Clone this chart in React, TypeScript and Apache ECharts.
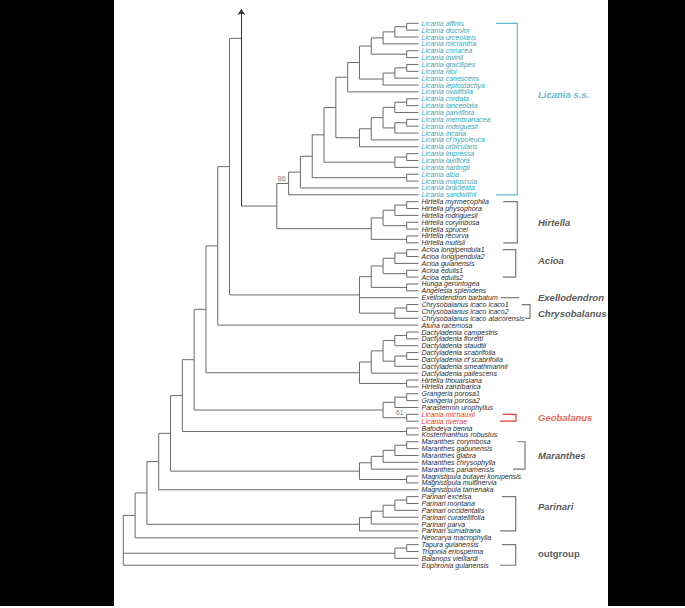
import React, { useEffect, useRef } from 'react';
import * as echarts from 'echarts';

// ---------- data ----------
const leafNames: string[] = [
  'Licania affinis', 'Licania discolor', 'Licania urceolaris', 'Licania micrantha', 'Licania coriacea',
  'Licania irwinii', 'Licania gracilipes', 'Licania riloi', 'Licania canescens', 'Licania leptostachya',
  'Licania ovalifolia', 'Licania cordata', 'Licania lanceolata', 'Licania parviflora', 'Licania membranacea',
  'Licania rodriguesii', 'Licania incana', 'Licania cf hypoleuca', 'Licania orbicularis', 'Licania impressa',
  'Licania laxiflora', 'Licania harlingii', 'Licania alba', 'Licania majuscula', 'Licania bracteata',
  'Licania sandwithii',
  'Hirtella myrmecophila', 'Hirtella physophora', 'Hirtella rodriguesii', 'Hirtella corymbosa',
  'Hirtella sprucei', 'Hirtella recurva', 'Hirtella mutisii',
  'Acioa longipendula1', 'Acioa longipendula2', 'Acioa guianensis', 'Acioa edulis1', 'Acioa edulis2',
  'Hunga gerontogea', 'Angelesia splendens', 'Exellodendron barbatum',
  'Chrysobalanus icaco icaco1', 'Chrysobalanus icaco icaco2', 'Chrysobalanus icaco atacorensis',
  'Atuna racemosa',
  'Dactyladenia campestris', 'Dactyladenia floretti', 'Dactyladenia staudtii', 'Dactyladenia scabrifolia',
  'Dactyladenia cf scabrifolia', 'Dactyladenia smeathmannii', 'Dactyladenia pallescens',
  'Hirtella thouarsiana', 'Hirtella zanzibarica',
  'Grangeria porosa1', 'Grangeria porosa2', 'Parastemon urophyllus', 'Licania michauxii', 'Licania riverae',
  'Bafodeya benna', 'Kostermanthus robustus',
  'Maranthes corymbosa', 'Maranthes gabunensis', 'Maranthes glabra', 'Maranthes chrysophylla',
  'Maranthes panamensis',
  'Magnistipula butayei korupensis', 'Magnistipula multinervia', 'Magnistipula tamenaka',
  'Parinari excelsa', 'Parinari montana', 'Parinari occidentalis', 'Parinari curatellifolia',
  'Parinari parva', 'Parinari sumatrana',
  'Neocarya macrophylla', 'Tapura guianensis', 'Trigonia eriosperma', 'Balanops vieillardi',
  'Euphronia guianensis',
];

// internal nodes: [id, level (steps from root), children]
const treeNodes: [string, number, string[]][] = [
  ['L1', 24, ['Licania affinis', 'Licania discolor']],
  ['L2', 23, ['L1', 'Licania urceolaris']],
  ['L3', 22, ['L2', 'Licania micrantha']],
  ['L4', 24, ['Licania coriacea', 'Licania irwinii']],
  ['L5', 21, ['L3', 'L4']],
  ['L6', 24, ['Licania gracilipes', 'Licania riloi']],
  ['L7', 23, ['L6', 'Licania canescens']],
  ['L8', 22, ['L7', 'Licania leptostachya']],
  ['L9', 20, ['L5', 'L8']],
  ['L10', 19, ['L9', 'Licania ovalifolia']],
  ['L11', 24, ['Licania cordata', 'Licania lanceolata']],
  ['L12', 23, ['L11', 'Licania parviflora']],
  ['L13', 24, ['Licania membranacea', 'Licania rodriguesii']],
  ['L14', 23, ['L13', 'Licania incana']],
  ['L15', 22, ['L12', 'L14']],
  ['L16', 21, ['L15', 'Licania cf hypoleuca']],
  ['L17', 20, ['L16', 'Licania orbicularis']],
  ['L18', 18, ['L10', 'L17']],
  ['L19', 24, ['Licania impressa', 'Licania laxiflora']],
  ['L20', 23, ['L19', 'Licania harlingii']],
  ['L21', 17, ['L18', 'L20']],
  ['L22', 24, ['Licania alba', 'Licania majuscula']],
  ['L23', 16, ['L21', 'L22']],
  ['L24', 15, ['L23', 'Licania bracteata']],
  ['L25', 14, ['L24', 'Licania sandwithii']],
  ['H1', 24, ['Hirtella myrmecophila', 'Hirtella physophora']],
  ['H2', 23, ['H1', 'Hirtella rodriguesii']],
  ['H3', 24, ['Hirtella corymbosa', 'Hirtella sprucei']],
  ['H4', 22, ['H2', 'H3']],
  ['H5', 24, ['Hirtella recurva', 'Hirtella mutisii']],
  ['H6', 21, ['H4', 'H5']],
  ['LH', 13, ['L25', 'H6']],
  ['STEM', 10, ['LH']],
  ['A1', 24, ['Acioa longipendula1', 'Acioa longipendula2']],
  ['A2', 23, ['A1', 'Acioa guianensis']],
  ['A3', 24, ['Acioa edulis1', 'Acioa edulis2']],
  ['A4', 22, ['A2', 'A3']],
  ['A5', 24, ['Hunga gerontogea', 'Angelesia splendens']],
  ['A6', 21, ['A4', 'A5']],
  ['C1', 24, ['Chrysobalanus icaco icaco1', 'Chrysobalanus icaco icaco2']],
  ['C2', 23, ['C1', 'Chrysobalanus icaco atacorensis']],
  ['A7', 20, ['A6', 'Exellodendron barbatum', 'C2']],
  ['B9', 9, ['STEM', 'A7']],
  ['B8', 8, ['B9', 'Atuna racemosa']],
  ['D1', 24, ['Dactyladenia campestris', 'Dactyladenia floretti']],
  ['D2', 23, ['D1', 'Dactyladenia staudtii']],
  ['D3', 24, ['Dactyladenia scabrifolia', 'Dactyladenia cf scabrifolia']],
  ['D4', 23, ['D3', 'Dactyladenia smeathmannii']],
  ['D5', 22, ['D2', 'D4']],
  ['D6', 21, ['D5', 'Dactyladenia pallescens']],
  ['D7', 24, ['Hirtella thouarsiana', 'Hirtella zanzibarica']],
  ['D8', 20, ['D6', 'D7']],
  ['B7', 7, ['B8', 'D8']],
  ['G1', 24, ['Grangeria porosa1', 'Grangeria porosa2']],
  ['G2', 23, ['G1', 'Parastemon urophyllus']],
  ['G3', 24, ['Licania michauxii', 'Licania riverae']],
  ['G4', 22, ['G2', 'G3']],
  ['B6', 6, ['B7', 'G4']],
  ['K1', 24, ['Bafodeya benna', 'Kostermanthus robustus']],
  ['B5', 5, ['B6', 'K1']],
  ['M1', 24, ['Maranthes corymbosa', 'Maranthes gabunensis']],
  ['M2', 23, ['M1', 'Maranthes glabra']],
  ['M3', 22, ['M2', 'Maranthes chrysophylla']],
  ['M4', 21, ['M3', 'Maranthes panamensis']],
  ['M5', 24, ['Magnistipula butayei korupensis', 'Magnistipula multinervia']],
  ['M6', 20, ['M4', 'M5']],
  ['B4', 4, ['B5', 'M6']],
  ['B3', 3, ['B4', 'Magnistipula tamenaka']],
  ['P1', 24, ['Parinari excelsa', 'Parinari montana']],
  ['P2', 23, ['P1', 'Parinari occidentalis']],
  ['P3', 22, ['P2', 'Parinari curatellifolia']],
  ['P4', 21, ['P3', 'Parinari parva']],
  ['P5', 20, ['P4', 'Parinari sumatrana']],
  ['B2', 2, ['B3', 'P5']],
  ['B1', 1, ['B2', 'Neocarya macrophylla']],
  ['O1', 24, ['Tapura guianensis', 'Trigonia eriosperma']],
  ['O2', 23, ['O1', 'Balanops vieillardi']],
  ['ROOT', 0, ['B1', 'O2', 'Euphronia guianensis']],
];

const supportNodes = ['L25', 'G3'];
const supportValues = ['86', '61'];

const cladeNames = ['Licania s.s.', 'Hirtella', 'Acioa', 'Exellodendron', 'Chrysobalanus', 'Geobalanus', 'Maranthes', 'Parinari', 'outgroup'];
const cladeFirst = ['Licania affinis', 'Hirtella myrmecophila', 'Acioa longipendula1', 'Exellodendron barbatum', 'Chrysobalanus icaco icaco1', 'Licania michauxii', 'Maranthes corymbosa', 'Parinari excelsa', 'Tapura guianensis'];
const cladeLast = ['Licania sandwithii', 'Hirtella mutisii', 'Acioa edulis2', 'Exellodendron barbatum', 'Chrysobalanus icaco atacorensis', 'Licania riverae', 'Maranthes panamensis', 'Parinari sumatrana', 'Euphronia guianensis'];

// ---------- styles / layout ----------
const ROOT_X = 123.3;
const STEP = 11.808;
const TIP_LEVEL = 25;
const TOP_Y = 23.3;
const ROW = 6.86;
const STEM_ROW = 2.2;
const ARROW_TOP_ROW = -2.1;
const FONT = '"Liberation Sans", Arial, sans-serif';
const TEAL = '#35a8b7';
const RED = '#e5402c';
const DARK = '#2b2b2b';
const LINE = '#6a6a6a';

const cladeStyle = ['t', 'd', 'd', 'd', 'd', 'r', 'd', 'd', 'd'];
const cladeItalic = [true, true, true, true, true, true, true, true, false];
const bracketTopPx = [496, 503.3, 502.7, 500.7, 521.7, 502.7, 517.3, 501.7, 501.7];
const bracketBotPx = [496, 503.3, 502.7, 500.7, 525, 500, 513, 500, 500];
const bracketVertPx = [517.3, 517.3, 515.7, 519.3, 530, 516, 525, 515.7, 515.7];
const labelShiftRows = [-2.05, 0, -0.4, 0, 0.27, 0, 0, -1.0, -0.24];
const LABEL_X_PX = 538;

const pxToLevel = (px: number) => (px - ROOT_X) / STEP;
const styleColor: Record<string, string> = { t: TEAL, r: RED, d: DARK };
const bracketColor: Record<string, string> = { t: '#5cbfcb', r: RED, d: '#7a7a7a' };

export default function App() {
  const ref = useRef<HTMLDivElement>(null);

  useEffect(() => {
    document.body.style.margin = '0';
    if (!ref.current) return;
    const chart = echarts.init(ref.current, undefined, { renderer: 'svg' });

    const leafIndex: Record<string, number> = {};
    leafNames.forEach((n, i) => (leafIndex[n] = i));

    // leaf label style by clade
    const leafStyle: string[] = leafNames.map(() => 'd');
    cladeNames.forEach((_, c) => {
      for (let i = leafIndex[cladeFirst[c]]; i <= leafIndex[cladeLast[c]]; i++) leafStyle[i] = cladeStyle[c];
    });

    const pos: Record<string, { x: number; y: number }> = {};
    leafNames.forEach((n, i) => (pos[n] = { x: TIP_LEVEL, y: i }));
    for (const [id, lv, ch] of treeNodes) {
      const ys = ch.map((c) => pos[c].y);
      let y = (Math.min(...ys) + Math.max(...ys)) / 2;
      if (id === 'STEM') y = STEM_ROW;
      pos[id] = { x: lv, y };
    }

    const treeLines: any[] = [];
    for (const [id, lv, ch] of treeNodes) {
      const cs = ch.map((c) => pos[c]);
      if (id === 'STEM') {
        treeLines.push({ coords: [[lv, cs[0].y], [cs[0].x, cs[0].y]] });
        continue;
      }
      const first = cs[0];
      const last = cs[cs.length - 1];
      treeLines.push({ coords: [[first.x, first.y], [lv, first.y], [lv, last.y], [last.x, last.y]] });
      for (let k = 1; k < cs.length - 1; k++) treeLines.push({ coords: [[lv, cs[k].y], [cs[k].x, cs[k].y]] });
    }

    const stemLevel = pos['STEM'].x;
    const arrowLine = [{ coords: [[stemLevel, pos['LH'].y], [stemLevel, ARROW_TOP_ROW]] }];

    const bracketLines: any[] = cladeNames.map((_, c) => {
      const a = leafIndex[cladeFirst[c]];
      const b = leafIndex[cladeLast[c]];
      const col = bracketColor[cladeStyle[c]];
      const coords =
        a === b
          ? [[pxToLevel(bracketTopPx[c]), a], [pxToLevel(bracketVertPx[c]), a]]
          : [
              [pxToLevel(bracketTopPx[c]), a],
              [pxToLevel(bracketVertPx[c]), a],
              [pxToLevel(bracketVertPx[c]), b],
              [pxToLevel(bracketBotPx[c]), b],
            ];
      return { coords, lineStyle: { color: col, width: 1.2, opacity: 1 } };
    });

    const cladeLabels = cladeNames.map((name, c) => {
      const a = leafIndex[cladeFirst[c]];
      const b = leafIndex[cladeLast[c]];
      return {
        value: [pxToLevel(LABEL_X_PX), (a + b) / 2 + labelShiftRows[c]],
        label: {
          show: true,
          position: 'right',
          distance: 0,
          formatter: name,
          color: styleColor[cladeStyle[c]],
          fontSize: 9.5,
          fontWeight: 'bold',
          fontStyle: cladeItalic[c] ? 'italic' : 'normal',
          fontFamily: FONT,
        },
      };
    });

    const supportLabels = supportNodes.map((id, k) => ({
      value: [pos[id].x, pos[id].y],
      label: {
        show: true,
        position: 'left',
        distance: 3,
        offset: [0, -5],
        formatter: supportValues[k],
        color: '#555',
        fontSize: 7,
        fontFamily: FONT,
      },
    }));

    const richBase = { fontSize: 7, fontStyle: 'italic', fontFamily: FONT };

    chart.setOption({
      animation: false,
      backgroundColor: '#ffffff',
      grid: {
        left: ROOT_X,
        top: TOP_Y,
        width: TIP_LEVEL * STEP,
        height: (leafNames.length - 1) * ROW,
        outerBoundsMode: 'none',
      },
      xAxis: { type: 'value', min: 0, max: TIP_LEVEL, show: false },
      yAxis: {
        type: 'value',
        min: 0,
        max: leafNames.length - 1,
        interval: 1,
        inverse: true,
        position: 'right',
        axisLine: { show: false },
        axisTick: { show: false },
        splitLine: { show: false },
        axisLabel: {
          margin: 3,
          ...richBase,
          color: DARK,
          formatter: (v: number) => {
            const i = Math.round(v);
            if (Math.abs(v - i) > 1e-6 || !leafNames[i]) return '';
            return `{${leafStyle[i]}|${leafNames[i]}}`;
          },
          rich: {
            d: { ...richBase, color: DARK },
            t: { ...richBase, color: TEAL },
            r: { ...richBase, color: RED },
          },
        },
      },
      graphic: [
        { type: 'rect', shape: { x: 0, y: 0, width: 114, height: 606 }, style: { fill: '#000' }, silent: true },
        { type: 'rect', shape: { x: 608, y: 0, width: 77, height: 606 }, style: { fill: '#000' }, silent: true },
      ],
      series: [
        {
          type: 'lines',
          coordinateSystem: 'cartesian2d',
          polyline: true,
          clip: false,
          silent: true,
          lineStyle: { color: LINE, width: 1, opacity: 1 },
          data: treeLines,
        },
        {
          type: 'lines',
          coordinateSystem: 'cartesian2d',
          polyline: false,
          clip: false,
          silent: true,
          symbol: ['none', 'arrow'],
          symbolSize: 6,
          lineStyle: { color: '#333', width: 1, opacity: 1 },
          data: arrowLine,
        },
        {
          type: 'lines',
          coordinateSystem: 'cartesian2d',
          polyline: true,
          clip: false,
          silent: true,
          data: bracketLines,
        },
        {
          type: 'scatter',
          clip: false,
          silent: true,
          symbolSize: 0,
          itemStyle: { color: 'transparent' },
          data: [...cladeLabels, ...supportLabels],
        },
      ],
    });

    return () => chart.dispose();
  }, []);

  return <div ref={ref} style={{ position: 'absolute', left: 0, top: 0, width: 685, height: 608 }} />;
}
